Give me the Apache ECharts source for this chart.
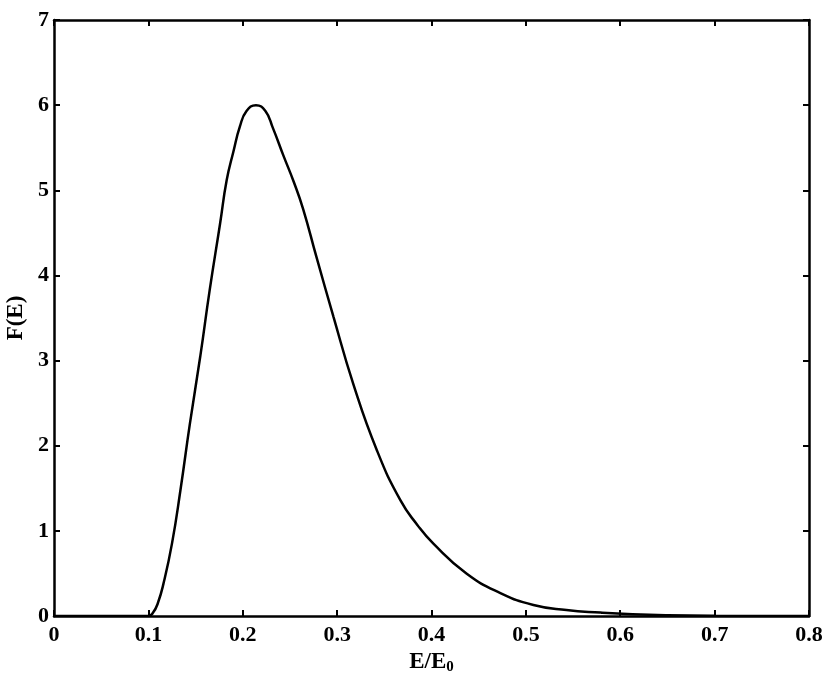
<!DOCTYPE html>
<html>
<head>
<meta charset="utf-8">
<script src="https://cdn.jsdelivr.net/npm/echarts@6/dist/echarts.min.js"></script>
<style>
  html, body { margin: 0; padding: 0; background: #fff; }
  #chart { width: 830px; height: 682px; }
</style>
</head>
<body>
<div id="chart"></div>
<script>
// E/E0 values and F(E)
const energy = [0, 0.1, 0.105, 0.11, 0.116, 0.125, 0.134, 0.144, 0.155, 0.165, 0.176, 0.183, 0.19, 0.197, 0.204, 0.214, 0.224, 0.232, 0.243, 0.254, 0.264, 0.278, 0.296, 0.317, 0.342, 0.367, 0.385, 0.402, 0.437, 0.473, 0.508, 0.543, 0.579, 0.613, 0.65, 0.7, 0.8]
const fValues = [0, 0, 0.04, 0.15, 0.38, 0.85, 1.48, 2.26, 3.05, 3.83, 4.61, 5.12, 5.45, 5.75, 5.93, 6.0, 5.93, 5.73, 5.41, 5.1, 4.78, 4.22, 3.52, 2.73, 1.95, 1.36, 1.07, 0.85, 0.50, 0.27, 0.13, 0.07, 0.04, 0.02, 0.008, 0.002, 0]

const font = 'Liberation Serif'
const tickLine = { show: true, inside: true, length: 6, lineStyle: { color: '#000', width: 2 } }
const axisLine = { show: true, onZero: false, lineStyle: { color: '#000', width: 2.5 } }

const chart = echarts.init(document.getElementById('chart'))
chart.setOption({
  animation: false,
  backgroundColor: '#fff',
  grid: { left: 54, right: 21, top: 20, bottom: 66, containLabel: false, outerBoundsMode: 'none' },
  xAxis: [
    {
      type: 'value', min: 0, max: 0.8, interval: 0.1,
      axisLine, axisTick: tickLine, splitLine: { show: false },
      axisLabel: { color: '#000', fontFamily: font, fontWeight: 'bold', fontSize: 22, margin: 8 },
      name: '{a|E/E}{b|0}',
      nameLocation: 'middle',
      nameGap: 34,
      nameTextStyle: {
        rich: {
          a: { fontFamily: font, fontWeight: 'bold', fontSize: 23, color: '#000' },
          b: { fontFamily: font, fontWeight: 'bold', fontSize: 15, color: '#000', padding: [10, 0, 0, 0] }
        }
      }
    },
    {
      type: 'value', min: 0, max: 0.8, interval: 0.1, position: 'top',
      axisLine, axisTick: tickLine, splitLine: { show: false }, axisLabel: { show: false }
    }
  ],
  yAxis: [
    {
      type: 'value', min: 0, max: 7, interval: 1,
      axisLine, axisTick: tickLine, splitLine: { show: false },
      axisLabel: { color: '#000', fontFamily: font, fontWeight: 'bold', fontSize: 22, margin: 5 },
      name: 'F(E)',
      nameLocation: 'middle',
      nameGap: 21,
      nameTextStyle: { color: '#000', fontFamily: font, fontWeight: 'bold', fontSize: 23 }
    },
    {
      type: 'value', min: 0, max: 7, interval: 1, position: 'right',
      axisLine, axisTick: tickLine, splitLine: { show: false }, axisLabel: { show: false }
    }
  ],
  series: [
    {
      type: 'line',
      data: energy.map((e, i) => [e, fValues[i]]),
      smooth: 0.5,
      showSymbol: false,
      lineStyle: { color: '#000', width: 2.5 }
    }
  ]
})
</script>
</body>
</html>
